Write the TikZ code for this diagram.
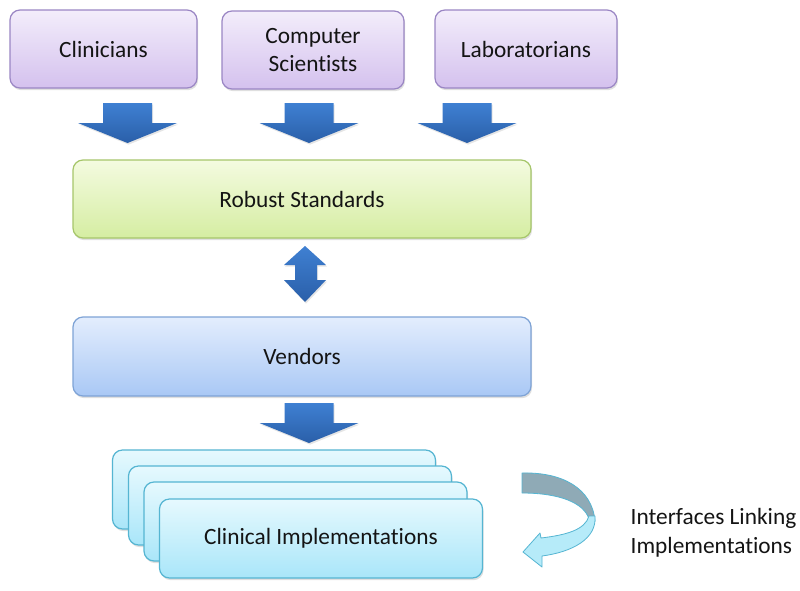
\documentclass[tikz,border=0pt]{standalone}
\usepackage{fontspec}
\setmainfont{Carlito}[Ligatures={NoCommon}]
\usetikzlibrary{shadows}
\definecolor{purTop}{HTML}{F3EDFB}
\definecolor{purBot}{HTML}{D4C1EE}
\definecolor{purLine}{HTML}{9A86C4}
\definecolor{grnTop}{HTML}{F4FBE0}
\definecolor{grnBot}{HTML}{D5EDA2}
\definecolor{grnLine}{HTML}{A6C66A}
\definecolor{bluTop}{HTML}{E3EDFD}
\definecolor{bluBot}{HTML}{A9C8F5}
\definecolor{bluLine}{HTML}{7EA3D6}
\definecolor{cyTop}{HTML}{E6F9FE}
\definecolor{cyBot}{HTML}{A9E6F9}
\definecolor{cyLine}{HTML}{55B5D2}
\definecolor{arTop}{HTML}{3F80D2}
\definecolor{arBot}{HTML}{2A5FA9}
\definecolor{ribBack}{HTML}{8FAAB6}
\definecolor{ribFront}{HTML}{B6EBF9}
\definecolor{txt}{HTML}{141414}
\begin{document}
\begin{tikzpicture}[x=0.75pt,y=-0.75pt,
  font=\fontsize{17.5}{21.5}\selectfont, text=txt,
  box/.style={rounded corners=7.5pt, line width=0.9pt, align=center, inner sep=0pt,
    drop shadow={opacity=0.25, shadow xshift=0.8pt, shadow yshift=-1.6pt}},
  purbox/.style={box, draw=purLine, top color=purTop, bottom color=purBot,
    minimum width=136.5pt, minimum height=58.5pt},
  grnbox/.style={box, draw=grnLine, top color=grnTop, bottom color=grnBot,
    minimum width=343.5pt, minimum height=58.5pt},
  blubox/.style={box, draw=bluLine, top color=bluTop, bottom color=bluBot,
    minimum width=343.5pt, minimum height=59.25pt},
  cybox/.style={box, draw=cyLine, top color=cyTop, bottom color=cyBot,
    minimum width=242.25pt, minimum height=59.25pt},
  blockarrow/.style={top color=arTop, bottom color=arBot, draw=none,
    drop shadow={opacity=0.2, shadow xshift=0.8pt, shadow yshift=-1.2pt}},
  downarr/.pic={\path[blockarrow] (-24.5,0) -- (24.5,0) -- (24.5,20) -- (49.5,20)
      -- (0,40) -- (-49.5,20) -- (-24.5,20) -- cycle;},
  ribedge/.style={draw=cyLine, line width=0.6pt, line join=round}]
\useasboundingbox (0,0) rectangle (800,590);
\fill[white] (0,0) rectangle (800,590);

% top row
\node[purbox, minimum width=140.25pt] (clin) at (103.5,49) {Clinicians};
\node[purbox] (comp) at (313,50) {Computer\\Scientists};
\node[purbox] (lab) at (526,49) {Laboratorians};

% standards and vendors
\node[grnbox] (std) at (302,199) {Robust Standards};
\node[blubox] (vend) at (302,356.5) {Vendors};

% arrows from the top row into the standards
\pic at (127.5,103) {downarr};
\pic at (309,103) {downarr};
\pic at (467,103) {downarr};

% double arrow between standards and vendors
\path[blockarrow] (305,246) -- (326,265) -- (317,265) -- (317,280) -- (326,280)
  -- (305,302) -- (284,280) -- (295,280) -- (295,265) -- (284,265) -- cycle;

% arrow from vendors into the implementations
\pic at (309,403) {downarr};

% stacked implementations
\node[cybox] (imp1) at (274,489.5) {};
\node[cybox] (imp2) at (290,505.5) {};
\node[cybox] (imp3) at (305.5,521.5) {};
\node[cybox] (imp4) at (321,538.5) {Clinical Implementations};

% curved ribbon arrow
\path[ribedge, fill=ribBack]
  (522,473) .. controls (562,472) and (592,488) .. (595,521)
  -- (589,519) .. controls (584,503) and (560,493) .. (522,493) -- cycle;
\path[ribedge, fill=ribFront]
  (595,516) .. controls (597,539) and (572,552) .. (542,556)
  -- (542,567) -- (523,552) -- (540,533) -- (541,538)
  .. controls (566,535) and (585,530) .. (589,516) -- cycle;

\node[align=left, anchor=west] (iface) at (626,533) {Interfaces Linking\\Implementations};
\end{tikzpicture}
\end{document}
